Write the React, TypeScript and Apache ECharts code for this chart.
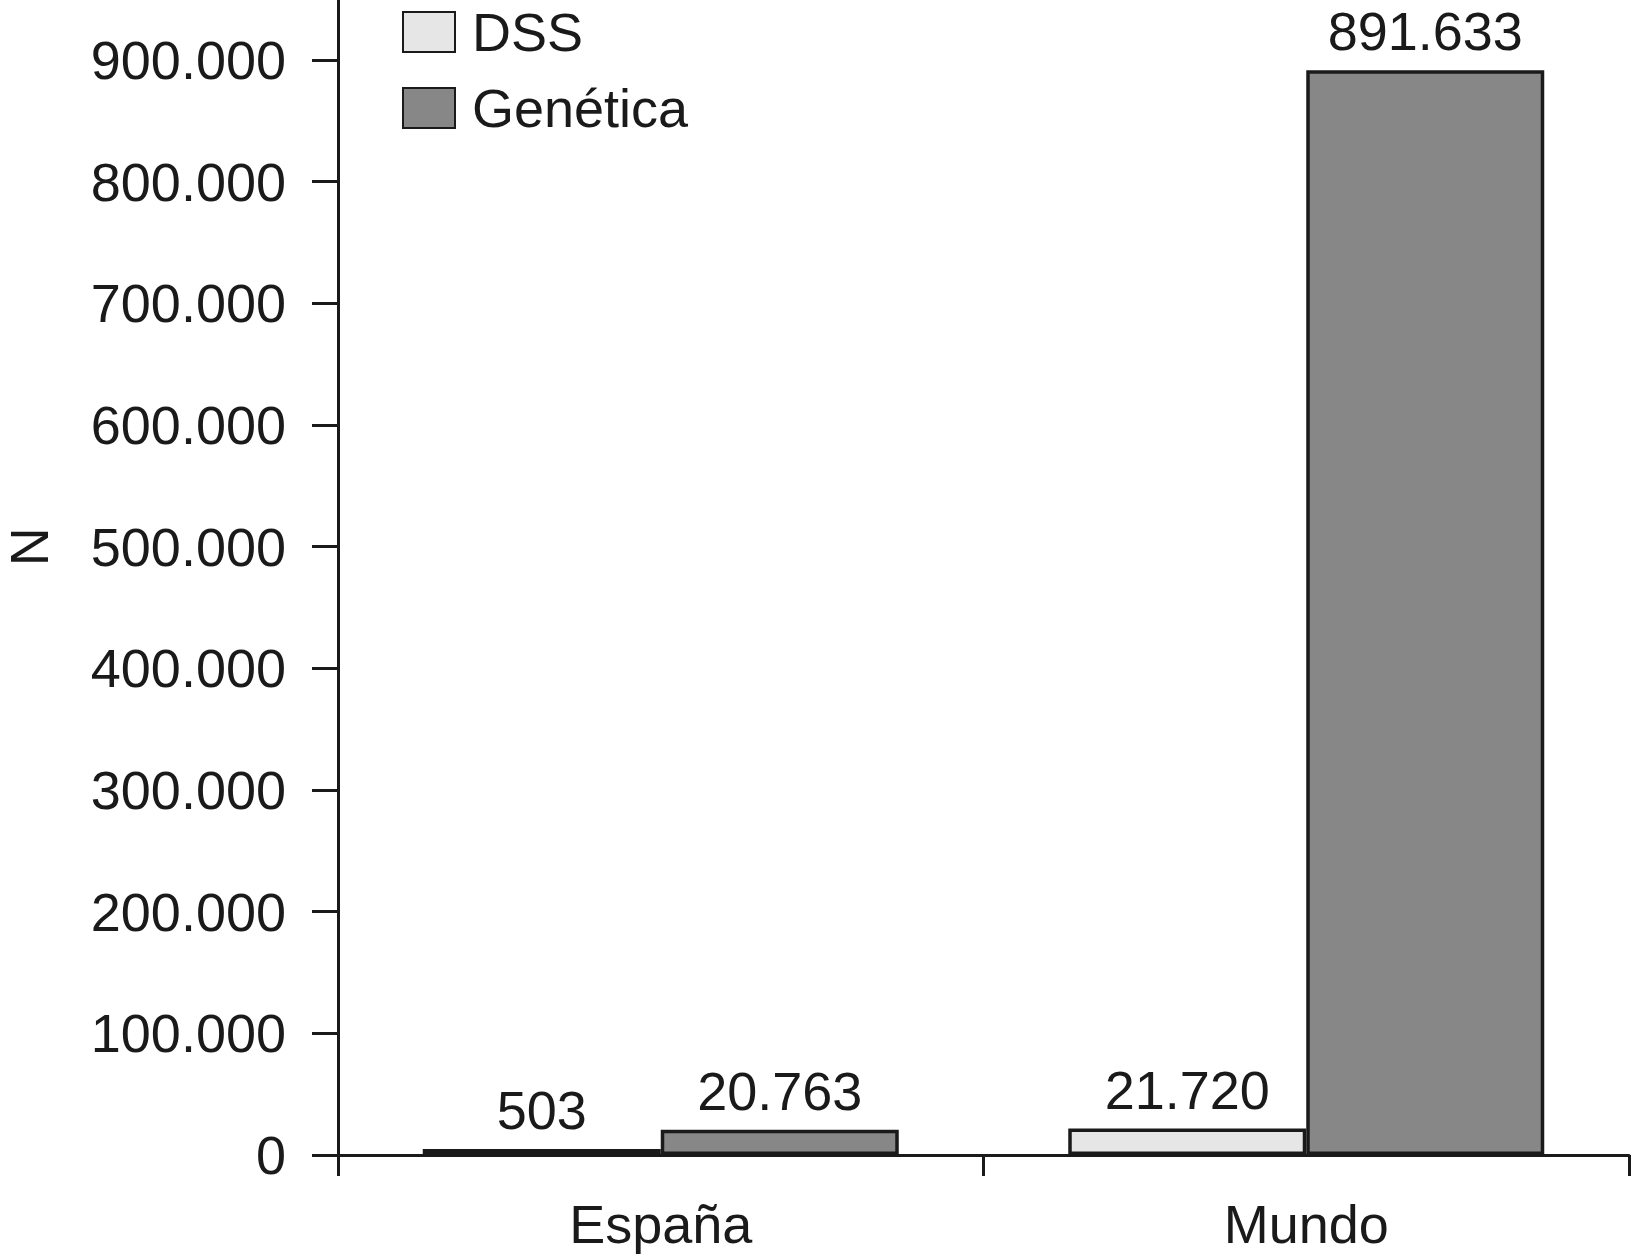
import React, { useEffect, useRef } from "react";
import * as echarts from "echarts";

const categories = ["España", "Mundo"];
const dssValues = [503, 21720];
const geneticaValues = [20763, 891633];
const seriesNames = ["DSS", "Genética"];

const FONT = "'Liberation Sans', Arial, Helvetica, sans-serif";
const INK = "#1a1a1a";

function fmt(v: number): string {
  return String(Math.round(v)).replace(/\B(?=(\d{3})+(?!\d))/g, ".");
}

export default function App() {
  const ref = useRef<HTMLDivElement>(null);
  useEffect(() => {
    if (!ref.current) return;
    const chart = echarts.init(ref.current, null, { renderer: "svg" });
    const labelStyle = {
      show: true,
      position: "top" as const,
      distance: 12,
      fontFamily: FONT,
      fontSize: 54,
      color: INK,
      formatter: (p: any) => fmt(p.value),
    };
    chart.setOption({
      animation: false,
      backgroundColor: "#ffffff",
      textStyle: { fontFamily: FONT, color: INK },
      legend: {
        orient: "vertical",
        left: 397,
        top: 0,
        icon: "rect",
        itemWidth: 52,
        itemHeight: 40,
        itemGap: 22,
        textStyle: { fontFamily: FONT, fontSize: 54, color: INK, padding: [0, 0, 0, 12] },
        data: seriesNames,
      },
      grid: { left: 338, right: 3, top: -61.7, bottom: 105, containLabel: false, outerBoundsMode: "none" },
      xAxis: {
        type: "category",
        data: categories,
        boundaryGap: true,
        axisLine: { lineStyle: { color: INK, width: 3 } },
        axisTick: { show: true, length: 21, alignWithLabel: false, lineStyle: { color: INK, width: 3 } },
        axisLabel: { fontFamily: FONT, fontSize: 54, color: INK, margin: 42 },
        splitLine: { show: false },
      },
      yAxis: {
        type: "value",
        min: 0,
        max: 1000000,
        interval: 100000,
        name: "N",
        nameLocation: "middle",
        nameRotate: 90,
        nameGap: 282,
        nameTextStyle: { fontFamily: FONT, fontSize: 54, color: INK },
        axisLine: { show: true, lineStyle: { color: INK, width: 3 } },
        axisTick: { show: true, length: 26, lineStyle: { color: INK, width: 3 } },
        axisLabel: {
          fontFamily: FONT,
          fontSize: 54,
          color: INK,
          margin: 52,
          formatter: (v: number) => (v > 900000 ? "" : fmt(v)),
        },
        splitLine: { show: false },
      },
      series: [
        {
          name: seriesNames[0],
          type: "bar",
          data: dssValues,
          barWidth: 238,
          barGap: "0%",
          barMinHeight: 6,
          itemStyle: { color: "#e6e6e6", borderColor: INK, borderWidth: 3.5 },
          label: labelStyle,
        },
        {
          name: seriesNames[1],
          type: "bar",
          data: geneticaValues,
          barWidth: 238,
          barGap: "0%",
          barMinHeight: 6,
          itemStyle: { color: "#878787", borderColor: INK, borderWidth: 3.5 },
          label: labelStyle,
        },
      ],
    });
    return () => chart.dispose();
  }, []);
  return <div ref={ref} style={{ width: 1632, height: 1260, position: "absolute", left: 0, top: 0 }} />;
}
